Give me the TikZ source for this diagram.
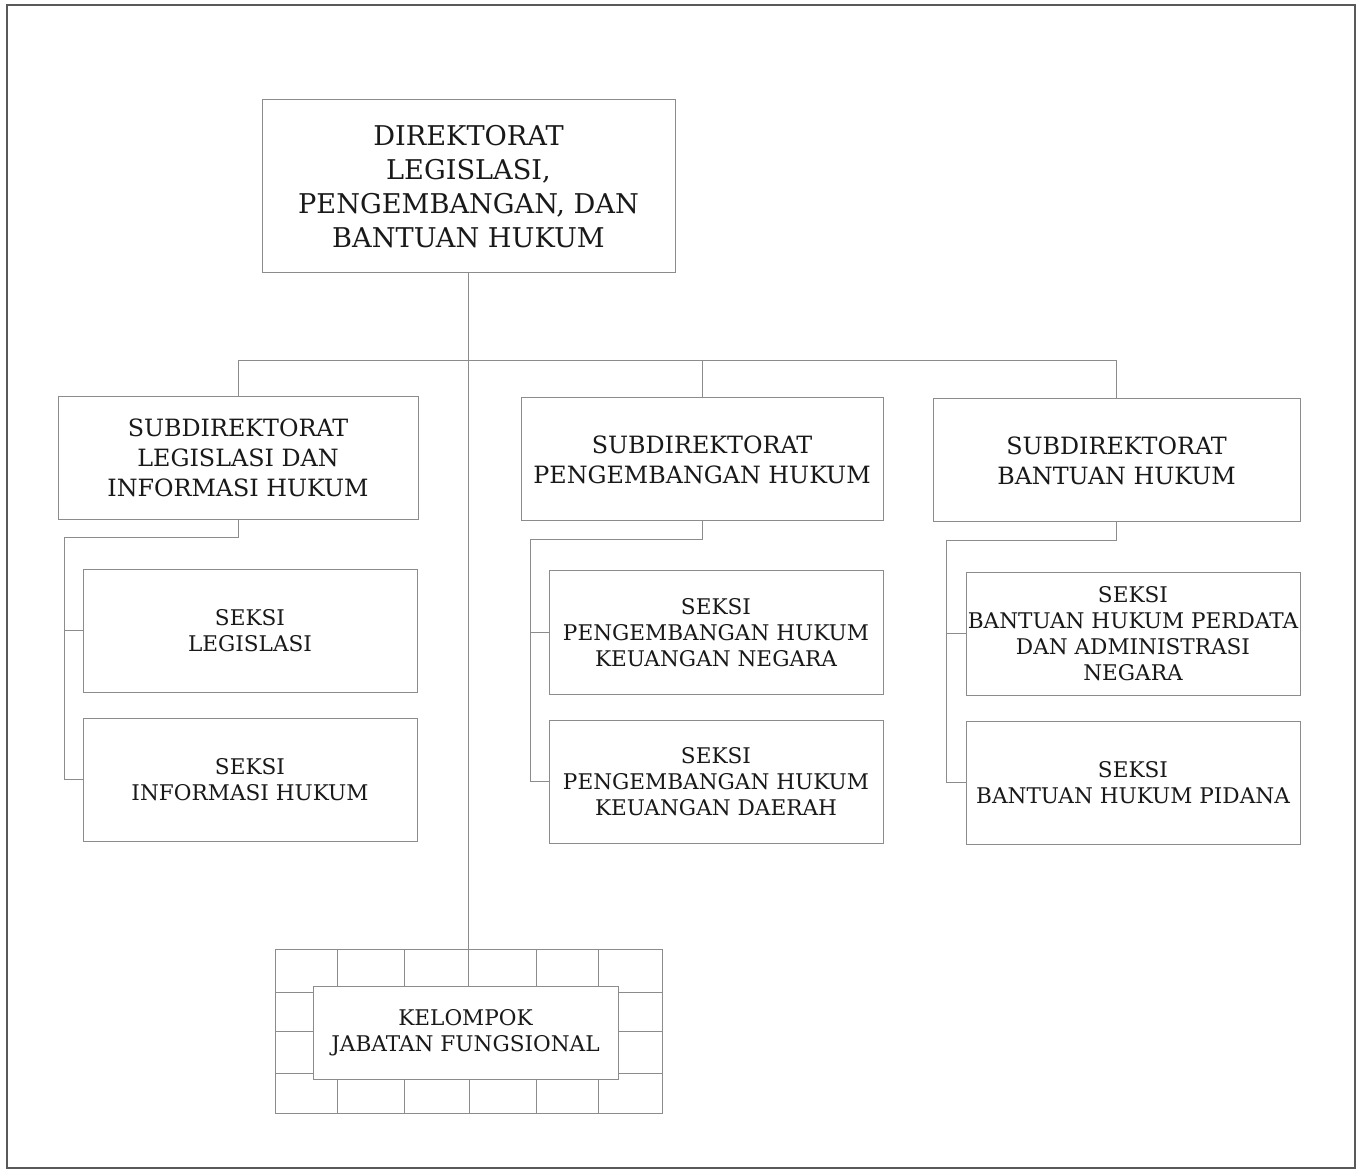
\documentclass[tikz,border=0pt]{standalone}
\usepackage{fontspec}
\setmainfont{DejaVu Serif}
\begin{document}
\begin{tikzpicture}[x=0.5pt,y=-0.5pt,
  line/.style={draw=black!45,line width=0.5pt},
  box/.style={line,fill=white,rectangle,inner sep=0pt,align=center,text=black!90},
  topbox/.style={box,minimum width=206.5pt,minimum height=86.5pt,
    font=\fontsize{13.6}{17}\selectfont},
  subbox/.style={box,minimum height=61.5pt,
    font=\fontsize{11.9}{15}\selectfont},
  seksibox/.style={box,minimum width=167pt,minimum height=61.5pt,
    font=\fontsize{10.8}{13}\selectfont},
  frame/.style={draw=black!65,line width=1pt}]
\useasboundingbox (0,0) rectangle (1360,1170);
\draw[frame] (7,5) rectangle (1355,1168);

% director
\node[topbox] (top) at (468.5,186.5)
  {DIREKTORAT\\LEGISLASI,\\PENGEMBANGAN, DAN\\BANTUAN HUKUM};

% sub-directorates
\node[subbox,minimum width=180pt] (sub1) at (238,458)
  {SUBDIREKTORAT\\LEGISLASI DAN\\INFORMASI HUKUM};
\node[subbox,minimum width=181pt] (sub2) at (702,459.5)
  {SUBDIREKTORAT\\PENGEMBANGAN HUKUM};
\node[subbox,minimum width=183.5pt] (sub3) at (1116.5,460.5)
  {SUBDIREKTORAT\\BANTUAN HUKUM};

% sections
\node[seksibox] (sL1) at (250,631) {SEKSI\\LEGISLASI};
\node[seksibox] (sL2) at (250,779.5) {SEKSI\\INFORMASI HUKUM};
\node[seksibox] (sM1) at (716,632.5)
  {SEKSI\\PENGEMBANGAN HUKUM\\KEUANGAN NEGARA};
\node[seksibox] (sM2) at (716,781.5)
  {SEKSI\\PENGEMBANGAN HUKUM\\KEUANGAN DAERAH};
\node[seksibox] (sR1) at (1133,634)
  {SEKSI\\BANTUAN HUKUM PERDATA\\DAN ADMINISTRASI\\NEGARA};
\node[seksibox] (sR2) at (1133,782.5)
  {SEKSI\\BANTUAN HUKUM PIDANA};

% brick grid behind the functional group
\draw[line] (275,949) rectangle (662,1113);
\foreach \y in {992,1031,1073} \draw[line] (275,\y) -- (662,\y);
\foreach \x in {337,404,536,598} {
  \draw[line] (\x,949) -- (\x,992);
  \draw[line] (\x,1073) -- (\x,1113);
}
\draw[line] (469,1073) -- (469,1113);

% functional group
\node[seksibox,minimum width=152.5pt,minimum height=46.5pt] (kel) at (465.5,1032.5)
  {KELOMPOK\\JABATAN FUNGSIONAL};

% trunk
\draw[line] (top.south) -- (top.south |- kel.north);

% bus to sub-directorates
\coordinate (bus) at (0,361);
\draw[line] (sub1.north) -- (sub1.north |- bus) -- (sub3.north |- bus) -- (sub3.north);
\draw[line] (sub2.north) -- (sub2.north |- bus);

% section connectors
\coordinate (l1) at (64,538);
\coordinate (l2) at (530,540);
\coordinate (l3) at (946,541);
\draw[line] (sub1.south) |- (l1) |- (sL2.west);
\draw[line] (l1 |- sL1.west) -- (sL1.west);
\draw[line] (sub2.south) |- (l2) |- (sM2.west);
\draw[line] (l2 |- sM1.west) -- (sM1.west);
\draw[line] (sub3.south) |- (l3) |- (sR2.west);
\draw[line] (l3 |- sR1.west) -- (sR1.west);
\end{tikzpicture}
\end{document}
